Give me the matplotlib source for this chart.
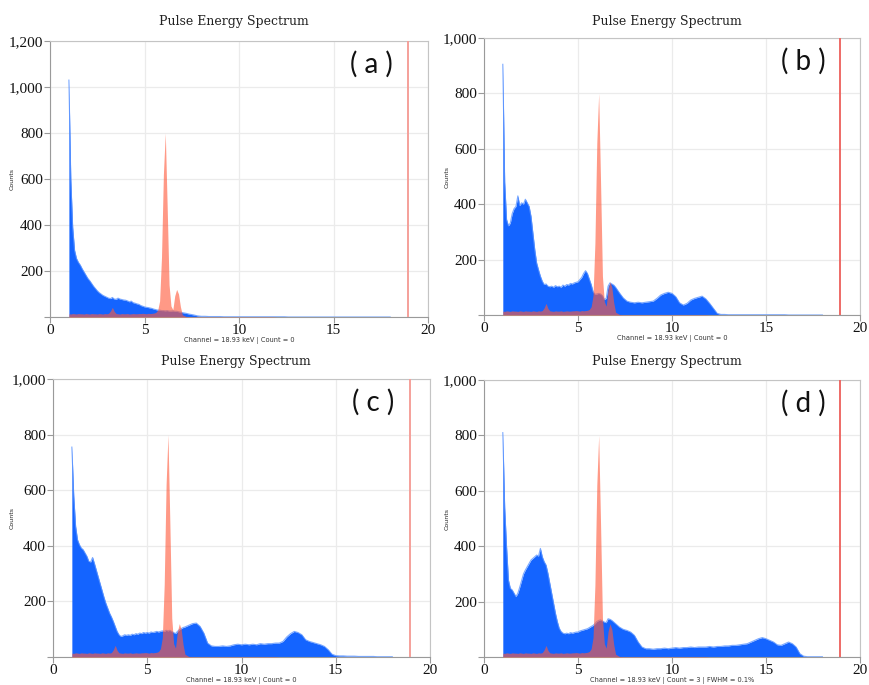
import numpy as np
import matplotlib
matplotlib.use("Agg")
import matplotlib.pyplot as plt
from matplotlib.ticker import FuncFormatter

# energy grid (keV): 0.1 keV channels up to 7 keV, 0.2 keV beyond
energy = np.round(np.concatenate([np.arange(1.0, 7.05, 0.1), np.arange(7.2, 18.05, 0.2)]), 2)

blue_a = [1030, 600, 390, 290, 255, 238, 226, 210, 196, 182,
          168, 158, 146, 134, 124, 114, 106, 100, 94, 90,
          86, 82, 80, 85, 78, 77, 82, 78, 76, 74,
          73, 70, 66, 69, 62, 60, 57, 55, 50, 47,
          44, 42, 41, 39, 37, 34, 32, 30, 30, 28,
          28, 27, 28, 26, 26, 27, 25, 25, 23, 21,
          19,
          16, 12, 9, 5, 3, 3, 2, 2, 2, 2, 1, 1, 1, 1, 1,
          1, 1, 1, 1, 1, 1, 1, 1, 1, 1, 1, 1,
          0, 0, 0, 0, 0, 0, 0, 0, 0, 0, 0, 0, 0, 0,
          0, 0, 0, 0, 0, 0, 0, 0, 0, 0, 0, 0, 0, 0]

blue_b = [905, 480, 345, 322, 332, 366, 384, 392, 430, 395,
          405, 400, 418, 405, 392, 356, 296, 236, 188, 163,
          140, 122, 110, 112, 104, 102, 104, 100, 106, 102,
          104, 100, 108, 104, 110, 108, 114, 112, 116, 118,
          120, 128, 136, 150, 160, 150, 130, 110, 85, 75,
          76, 78, 76, 70, 56, 60, 104, 116, 112, 108,
          100,
          80, 62, 50, 46, 44, 46, 44, 46, 48, 50, 60, 72, 78, 82, 78,
          66, 44, 36, 42, 54, 60, 64, 68, 58, 42, 24, 6,
          2, 2, 1, 1, 1, 1, 1, 1, 1, 1, 1, 1, 1, 1, 1, 1, 1, 1,
          0, 0, 0, 0, 0, 0, 0, 0, 0, 0]

blue_c = [755, 580, 470, 422, 404, 392, 386, 374, 362, 344,
          342, 358, 336, 312, 288, 264, 240, 216, 194, 176,
          158, 144, 128, 110, 92, 80, 74, 76, 80, 78,
          80, 78, 82, 80, 84, 82, 86, 84, 88, 86,
          88, 86, 90, 88, 90, 92, 90, 92, 94, 92,
          96, 94, 96, 92, 88, 84, 92, 98, 102, 106,
          108,
          114, 120, 122, 110, 86, 50, 40, 38, 38, 40, 38, 40, 44, 46, 44,
          46, 44, 46, 44, 48, 46, 48, 48, 50, 50, 56, 72,
          84, 92, 88, 80, 62, 56, 52, 48, 44, 38, 26, 10, 5, 4,
          4, 3, 3, 3, 2, 2, 2, 2, 2, 1, 1, 1, 1, 1]

blue_d = [810, 540, 398, 278, 248, 242, 230, 218, 230, 252,
          276, 300, 314, 326, 338, 350, 356, 362, 368, 364,
          392, 362, 344, 332, 302, 266, 230, 194, 158, 128,
          104, 92, 86, 84, 86, 84, 88, 86, 88, 90,
          90, 94, 96, 98, 100, 102, 106, 110, 114, 120,
          128, 132, 134, 130, 126, 124, 138, 136, 132, 126,
          120,
          108, 100, 96, 90, 78, 54, 36, 30, 30, 28, 30, 30, 32, 30, 32,
          34, 32, 34, 34, 36, 34, 36, 36, 36, 38, 36, 38,
          38, 40, 40, 42, 42, 44, 46, 48, 54, 60, 66, 70, 66, 60,
          54, 44, 42, 48, 54, 48, 36, 12, 3, 1, 1, 1, 1, 1]

# reference (red) spectrum, same in every panel
red_ref = [14, 13, 15, 14, 13, 15, 14, 14, 13, 15,
           14, 13, 15, 14, 14, 13, 15, 14, 13, 15,
           14, 16, 26, 42, 24, 15, 14, 13, 15, 14,
           14, 15, 13, 14, 15, 14, 14, 15, 15, 16,
           15, 14, 16, 15, 16, 17, 20, 30, 70, 260,
           620, 800, 480, 140, 48, 32, 92, 120, 100, 45,
           10,
           2, 1, 1, 1, 1, 1, 1, 1, 1, 1, 1, 1, 1, 1, 1,
           1, 1, 1, 1, 1, 1, 1, 1, 1, 0, 0, 0,
           0, 0, 0, 0, 0, 0, 0, 0, 0, 0, 0, 0, 0, 0,
           0, 0, 0, 0, 0, 0, 0, 0, 0, 0, 0, 0, 0, 0]

panel_labels = ["(a)", "(b)", "(c)", "(d)"]
blue_series = [blue_a, blue_b, blue_c, blue_d]
y_max = [1200, 1000, 1000, 1000]
marker_kev = 18.93
status_text = ["Channel = 18.93 keV | Count = 0",
               "Channel = 18.93 keV | Count = 0",
               "Channel = 18.93 keV | Count = 0",
               "Channel = 18.93 keV | Count = 3 | FWHM = 0.1%"]
title = "Pulse Energy Spectrum"
x_ticks = [0, 5, 10, 15, 20]

W, H = 869, 685
fig = plt.figure(figsize=(W / 100, H / 100), dpi=100)

# axes boxes in pixels (left, top, right, bottom)
boxes = [(50, 41, 428, 317), (484, 38, 860, 315),
         (53, 379, 430, 657), (484, 380, 860, 657)]
title_y = [21, 21, 362, 362]
marker_colors = ["#f5a09a", "#ee6a66", "#f5a09a", "#ee6a66"]

blue = "#1464ff"
red = "#ff5a3c"

for i in range(4):
    l, t, r, b = boxes[i]
    ax = fig.add_axes([l / W, 1 - b / H, (r - l) / W, (b - t) / H])
    ax.fill_between(energy, 0, blue_series[i], color=blue, lw=0, zorder=2)
    ax.plot(energy, blue_series[i], color="#5c95ff", lw=0.8, alpha=0.8, zorder=2)
    ax.fill_between(energy, 0, red_ref, color=red, alpha=0.62, lw=0, zorder=3)
    ax.axvline(marker_kev, color=marker_colors[i], lw=1.4, zorder=4)
    ax.set_xlim(0, 20)
    ax.set_ylim(0, y_max[i])
    ax.set_xticks(x_ticks)
    ax.set_yticks(np.arange(0, y_max[i] + 1, 200))
    ax.yaxis.set_major_formatter(FuncFormatter(lambda v, p: "" if v == 0 else f"{int(v):,}"))
    ax.grid(True, color="#ebebeb", lw=0.9, zorder=0)
    ax.set_axisbelow(True)
    for s in ["left", "bottom"]:
        ax.spines[s].set_color("#9a9a9a")
    for s in ["top", "right"]:
        ax.spines[s].set_color("#c4c4c4")
    ax.tick_params(axis="both", colors="#9a9a9a", length=4, width=0.8,
                   labelcolor="#111111", labelsize=11, pad=1)
    for lab in ax.get_xticklabels() + ax.get_yticklabels():
        lab.set_fontfamily("Liberation Serif")
    cx = (l + r) / 2
    fig.text(12 / W if i % 2 == 0 else 447 / W, 1 - (t + b) / 2 / H, "Counts",
             rotation=90, ha="center", va="center", fontsize=4.5,
             family="DejaVu Sans", color="#222222")
    fig.text(cx / W - 0.006, 1 - title_y[i] / H, title, ha="center", va="center",
             fontsize=9, family="DejaVu Serif", color="#222222")
    fig.text(cx / W, 1 - (b + 24) / H, status_text[i], ha="center", va="center",
             fontsize=4.8, family="DejaVu Sans", color="#333333")
    ax.text(0.85, 0.915, panel_labels[i].replace("(", "( ").replace(")", " )"),
            transform=ax.transAxes, ha="center", va="center",
            fontsize=20, family="Lato", color="#111111", zorder=5)

fig.savefig("out.png", dpi=100)
